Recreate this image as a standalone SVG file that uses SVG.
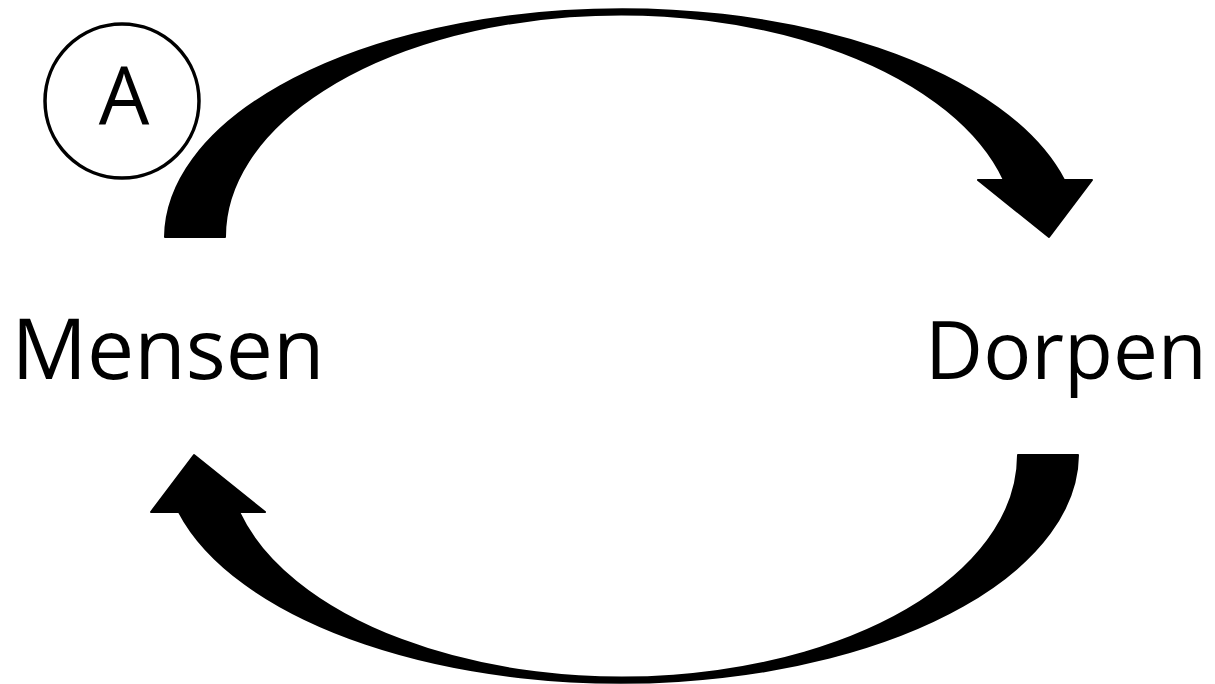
<svg xmlns="http://www.w3.org/2000/svg" width="1215" height="684" viewBox="0 0 1215 684">
<style>
.lbl{font-family:"Open Sans","Liberation Sans",sans-serif;fill:#000}
.arrow{fill:#000;stroke:#000;stroke-width:2;stroke-linejoin:round}
</style>
<rect width="1215" height="684" fill="#fff"/>
<g id="connectors">
<path id="arrow-top" class="arrow" d="M 165 237 A 457 229 0 0 1 1064 180 L 1092 180 L 1049 237 L 978 180 L 1004 180 A 396 222 0 0 0 225 237 Z"/>
<path id="arrow-bottom" class="arrow" transform="rotate(180 621.5 346)" d="M 165 237 A 457 229 0 0 1 1064 180 L 1092 180 L 1049 237 L 978 180 L 1004 180 A 396 222 0 0 0 225 237 Z"/>
</g>
<g id="badge-A">
<circle cx="122" cy="101" r="77" fill="#fff" stroke="#000" stroke-width="3.5"/>
<text class="lbl" x="124" y="124" font-size="80" text-anchor="middle">A</text>
</g>
<g id="node-mensen">
<text class="lbl" x="168" y="379" font-size="84" text-anchor="middle">Mensen</text>
</g>
<g id="node-dorpen">
<text class="lbl" x="1066" y="379" font-size="80" text-anchor="middle">Dorpen</text>
</g>
</svg>
